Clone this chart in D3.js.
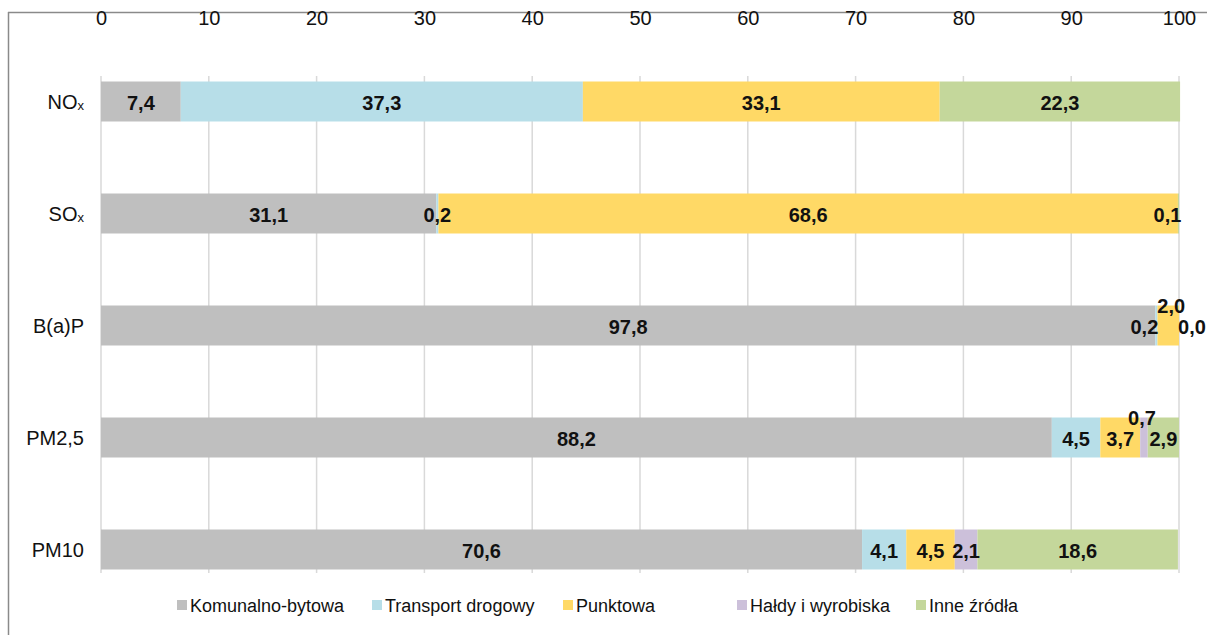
<!DOCTYPE html>
<html>
<head>
<meta charset="utf-8">
<script src="https://cdn.jsdelivr.net/npm/d3@7"></script>
<style>
  html, body { margin: 0; padding: 0; background: #fff; }
  svg { display: block; }
  text { font-family: "Liberation Sans", Arial, sans-serif; }
</style>
</head>
<body>
<svg id="chart" width="1207" height="635"></svg>
<script>
// ---- data ----
const categories = ["NOx", "SOx", "B(a)P", "PM2,5", "PM10"];
const seriesNames = ["Komunalno-bytowa", "Transport drogowy", "Punktowa", "Hałdy i wyrobiska", "Inne źródła"];
const komunalno = [7.4, 31.1, 97.8, 88.2, 70.6];
const transport = [37.3, 0.2, 0.2, 4.5, 4.1];
const punktowa  = [33.1, 68.6, 2.0, 3.7, 4.5];
const haldy     = [0.0, 0.0, 0.0, 0.7, 2.1];
const inne      = [22.3, 0.1, 0.0, 2.9, 18.6];
const tickValues = [0, 10, 20, 30, 40, 50, 60, 70, 80, 90, 100];

const seriesValues = [komunalno, transport, punktowa, haldy, inne];
const colors = ["#bfbfbf", "#b7dee8", "#ffd966", "#ccc0da", "#c4d79b"];

// label offsets for tiny segments [dx, dy] keyed by "category|series"
const labelShift = {
  "SOx|4": [-11, 0],
  "B(a)P|1": [-12, 0],
  "B(a)P|2": [3, -21],
  "B(a)P|4": [13, 0],
  "PM2,5|3": [-2, -21]
};

const svg = d3.select("#chart");
const W = 1207, H = 635;

// frame (top and left lines)
svg.append("line").attr("x1", 8).attr("x2", W).attr("y1", 12.5).attr("y2", 12.5)
  .attr("stroke", "#8a8a8a").attr("stroke-width", 1.5);
svg.append("line").attr("x1", 8.5).attr("x2", 8.5).attr("y1", 12).attr("y2", H)
  .attr("stroke", "#8a8a8a").attr("stroke-width", 1.5);

const x = d3.scaleLinear().domain([0, 100]).range([101, 1179]);
const y = d3.scaleBand().domain(categories).range([45.5, 605.5])
  .paddingInner(0.643).paddingOuter(0.3215);

// gridlines
svg.append("g").selectAll("line").data(tickValues).join("line")
  .attr("x1", d => x(d)).attr("x2", d => x(d))
  .attr("y1", 76).attr("y2", 573)
  .attr("stroke", "#d9d9d9").attr("stroke-width", 1.5);

// top axis
const axis = svg.append("g").attr("transform", "translate(0,25)")
  .call(d3.axisTop(x).tickValues(tickValues).tickSize(0).tickPadding(0).tickFormat(d3.format("d")));
axis.select(".domain").remove();
axis.selectAll("text").attr("font-size", 20).attr("fill", "#111")
  .attr("font-family", "'Liberation Sans', Arial, sans-serif");

// stack data
const rows = categories.map((c, i) => {
  const r = { cat: c };
  seriesValues.forEach((arr, k) => r["s" + k] = arr[i]);
  return r;
});
const keys = seriesValues.map((_, k) => "s" + k);
const stacked = d3.stack().keys(keys)(rows);

const layers = svg.append("g").selectAll("g").data(stacked).join("g")
  .attr("fill", (d, k) => colors[k]);
layers.selectAll("rect").data(d => d).join("rect")
  .attr("x", d => x(d[0]))
  .attr("y", d => y(d.data.cat))
  .attr("width", d => Math.max(0, x(d[1]) - x(d[0])))
  .attr("height", y.bandwidth());

// category labels
const catLabels = svg.append("g");
categories.forEach(c => {
  const t = catLabels.append("text")
    .attr("x", 84).attr("y", y(c) + y.bandwidth() / 2)
    .attr("text-anchor", "end").attr("dominant-baseline", "central")
    .attr("font-size", 20).attr("fill", "#111");
  if (c.endsWith("x")) {
    t.append("tspan").text(c.slice(0, -1));
    t.append("tspan").text("x").attr("font-size", 13).attr("dy", 3);
  } else {
    t.text(c);
  }
});

// data labels
const fmt = v => v.toFixed(1).replace(".", ",");
const lbl = svg.append("g");
stacked.forEach((layer, k) => {
  layer.forEach(d => {
    const v = d.data["s" + k];
    const cat = d.data.cat;
    const key = cat + "|" + k;
    if (v === 0 && !(key in labelShift)) return;
    const sh = labelShift[key] || [0, 0];
    lbl.append("text")
      .attr("x", (x(d[0]) + x(d[1])) / 2 + sh[0])
      .attr("y", y(cat) + y.bandwidth() / 2 + sh[1] + 1)
      .attr("text-anchor", "middle").attr("dominant-baseline", "central")
      .attr("font-size", 20).attr("font-weight", "bold").attr("fill", "#111")
      .text(fmt(v));
  });
});

// legend
const legendX = [177, 372, 563, 737, 916];
const lg = svg.append("g");
seriesNames.forEach((n, k) => {
  lg.append("rect").attr("x", legendX[k]).attr("y", 600).attr("width", 10).attr("height", 10)
    .attr("fill", colors[k]);
  lg.append("text").attr("x", legendX[k] + 13).attr("y", 605.5)
    .attr("dominant-baseline", "central").attr("font-size", 18).attr("fill", "#111")
    .text(n);
});
</script>
</body>
</html>
